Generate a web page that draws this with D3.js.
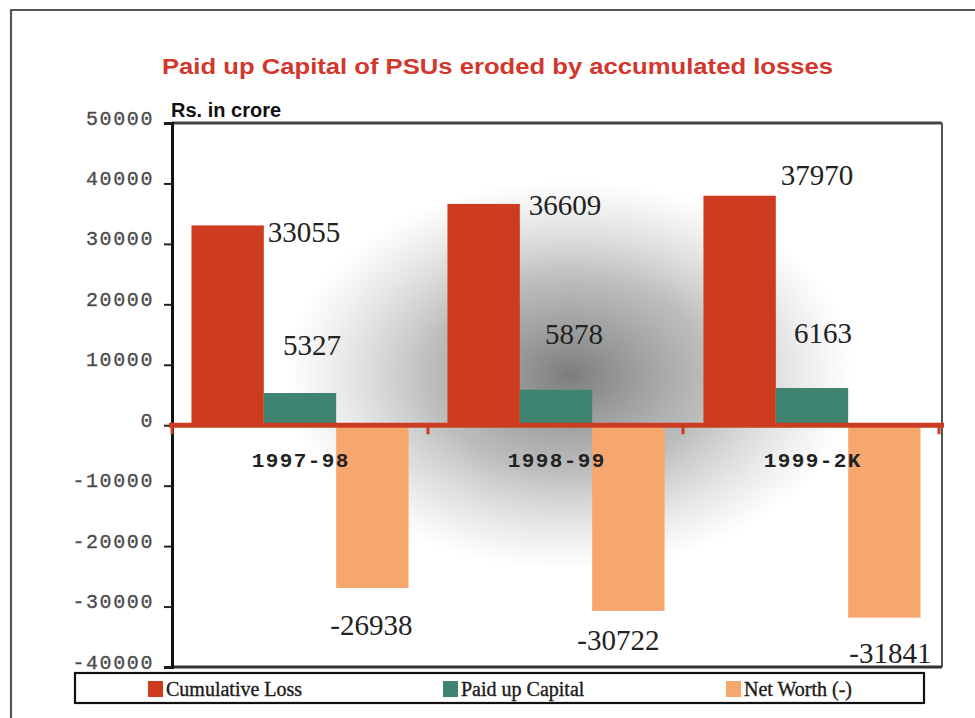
<!DOCTYPE html>
<html><head><meta charset="utf-8">
<script src="https://cdn.jsdelivr.net/npm/d3@7"></script>
<style>
html,body{margin:0;padding:0;background:#fff;}
svg{display:block;}
</style></head>
<body>
<svg id="chart" width="975" height="718"></svg>
<script>
// ---- data ----
const categories = ["1997-98", "1998-99", "1999-2K"];
const seriesNames = ["Cumulative Loss", "Paid up Capital", "Net Worth (-)"];
const cumulativeLoss = [33055, 36609, 37970];
const paidUpCapital = [5327, 5878, 6163];
const netWorth = [-26938, -30722, -31841];
const yTicks = [50000, 40000, 30000, 20000, 10000, 0, -10000, -20000, -30000, -40000];
// label nudges (dx, dy) relative to each bar's end, per series
const labelNudge = [
  [[4, 17], [9, 11], [5, -11]],
  [[12, -38], [18, -46], [11, -45]],
  [[-1, 47], [-10, 39], [6, 45]]
];

const colors = ["#cf3b1e", "#3f8470", "#f6a76e"];
const series = [cumulativeLoss, paidUpCapital, netWorth];

const svg = d3.select("#chart");
const L = 172, R = 942, T = 123, B = 667;

// outer frame
svg.append("path").attr("d", "M11,718V10H975").attr("fill", "none")
  .attr("stroke", "#555").attr("stroke-width", 2.2);

// title
svg.append("text").attr("x", 162).attr("y", 74)
  .attr("textLength", 671).attr("lengthAdjust", "spacingAndGlyphs")
  .attr("font-family", "Liberation Sans, Arial, sans-serif").attr("font-weight", "bold")
  .attr("font-size", 22).attr("fill", "#d3372c")
  .text("Paid up Capital of PSUs eroded by accumulated losses");

svg.append("text").attr("x", 171).attr("y", 117)
  .attr("font-family", "Liberation Sans, Arial, sans-serif").attr("font-weight", "bold")
  .attr("font-size", 20).attr("fill", "#111")
  .text("Rs. in crore");

const y = d3.scaleLinear().domain([-40000, 50000]).range([B, T]);
const x0 = d3.scaleBand().domain(categories).range([L, L + 768]).paddingInner(0.152).paddingOuter(0.076);
const x1 = d3.scaleBand().domain(d3.range(series.length)).range([0, x0.bandwidth()]);

// smudge background
const defs = svg.append("defs");
const rg = defs.append("radialGradient").attr("id", "smudge");
rg.append("stop").attr("offset", "0%").attr("stop-color", "#666").attr("stop-opacity", 0.85);
rg.append("stop").attr("offset", "50%").attr("stop-color", "#888").attr("stop-opacity", 0.55);
rg.append("stop").attr("offset", "100%").attr("stop-color", "#aaa").attr("stop-opacity", 0);
defs.append("clipPath").attr("id", "plotclip").append("rect")
  .attr("x", L).attr("y", T).attr("width", R - L).attr("height", B - T);
const sm = svg.append("g").attr("clip-path", "url(#plotclip)");
sm.append("ellipse").attr("cx", 570).attr("cy", 375).attr("rx", 285).attr("ry", 195)
  .attr("fill", "url(#smudge)");

// bars
const g = svg.append("g");
series.forEach((vals, si) => {
  g.selectAll(null).data(vals).join("rect")
    .attr("x", (d, i) => x0(categories[i]) + x1(si))
    .attr("width", x1.bandwidth())
    .attr("y", d => y(Math.max(0, d)))
    .attr("height", d => Math.abs(y(d) - y(0)))
    .attr("fill", colors[si]);
});

// plot border
svg.append("line").attr("x1", L).attr("x2", R).attr("y1", T).attr("y2", T)
  .attr("stroke", "#444").attr("stroke-width", 3);
svg.append("line").attr("x1", R).attr("x2", R).attr("y1", T).attr("y2", B)
  .attr("stroke", "#555").attr("stroke-width", 2);
svg.append("line").attr("x1", L).attr("x2", R).attr("y1", B).attr("y2", B)
  .attr("stroke", "#333").attr("stroke-width", 3);

// y axis
const yAxis = svg.append("g").attr("transform", `translate(${L},0)`)
  .call(d3.axisLeft(y).tickValues(yTicks).tickSize(8).tickPadding(12).tickFormat(d => String(d)));
yAxis.select(".domain").attr("stroke", "#111").attr("stroke-width", 3);
yAxis.selectAll(".tick line").attr("stroke", "#222").attr("stroke-width", 2);
yAxis.selectAll(".tick text")
  .attr("font-family", "Liberation Mono, Courier New, monospace")
  .attr("font-size", 20).attr("letter-spacing", 1.6).attr("fill", "#4a4a4a")
  .attr("stroke", "#4a4a4a").attr("stroke-width", 0.3)
  .attr("dx", 2).attr("dy", "0.05em");

// zero line with category ticks
svg.append("line").attr("x1", L - 3).attr("x2", R + 2).attr("y1", y(0)).attr("y2", y(0))
  .attr("stroke", "#cc3b22").attr("stroke-width", 5);
const sep = [L, L + 256, L + 511, L + 767];
svg.selectAll(null).data(sep).join("line")
  .attr("x1", d => d).attr("x2", d => d).attr("y1", y(0)).attr("y2", y(0) + 9)
  .attr("stroke", "#cc3b22").attr("stroke-width", 3);

// category labels
svg.selectAll(null).data(categories).join("text")
  .attr("x", d => x0(d) + x0.bandwidth() / 2 + 0.7)
  .attr("y", 467)
  .attr("text-anchor", "middle")
  .attr("font-family", "Liberation Mono, Courier New, monospace").attr("font-weight", "bold")
  .attr("font-size", 21).attr("letter-spacing", 1.4).attr("fill", "#222")
  .text(d => d);

// value labels
series.forEach((vals, si) => {
  svg.selectAll(null).data(vals).join("text")
    .attr("x", (d, i) => {
      const bx = x0(categories[i]) + x1(si);
      const nx = labelNudge[si][i][0];
      return si === 0 ? bx + x1.bandwidth() + nx : bx + x1.bandwidth() / 2 + nx;
    })
    .attr("y", (d, i) => y(d) + labelNudge[si][i][1])
    .attr("text-anchor", si === 0 ? "start" : "middle")
    .attr("font-family", "Liberation Serif, Times New Roman, serif")
    .attr("font-size", 29).attr("fill", "#222")
    .text(d => d);
});

// legend
const lg = svg.append("g");
lg.append("rect").attr("x", 75).attr("y", 673).attr("width", 849).attr("height", 30)
  .attr("fill", "#fff").attr("stroke", "#111").attr("stroke-width", 2.2);
const legX = [148, 443, 726];
seriesNames.forEach((n, i) => {
  lg.append("rect").attr("x", legX[i]).attr("y", 681).attr("width", 15).attr("height", 16)
    .attr("fill", colors[i]);
  lg.append("text").attr("x", legX[i] + 18).attr("y", 696)
    .attr("font-family", "Liberation Serif, Times New Roman, serif")
    .attr("font-size", 20).attr("fill", "#1a1a1a")
    .attr("stroke", "#1a1a1a").attr("stroke-width", 0.35).text(n);
});
</script>
</body></html>
